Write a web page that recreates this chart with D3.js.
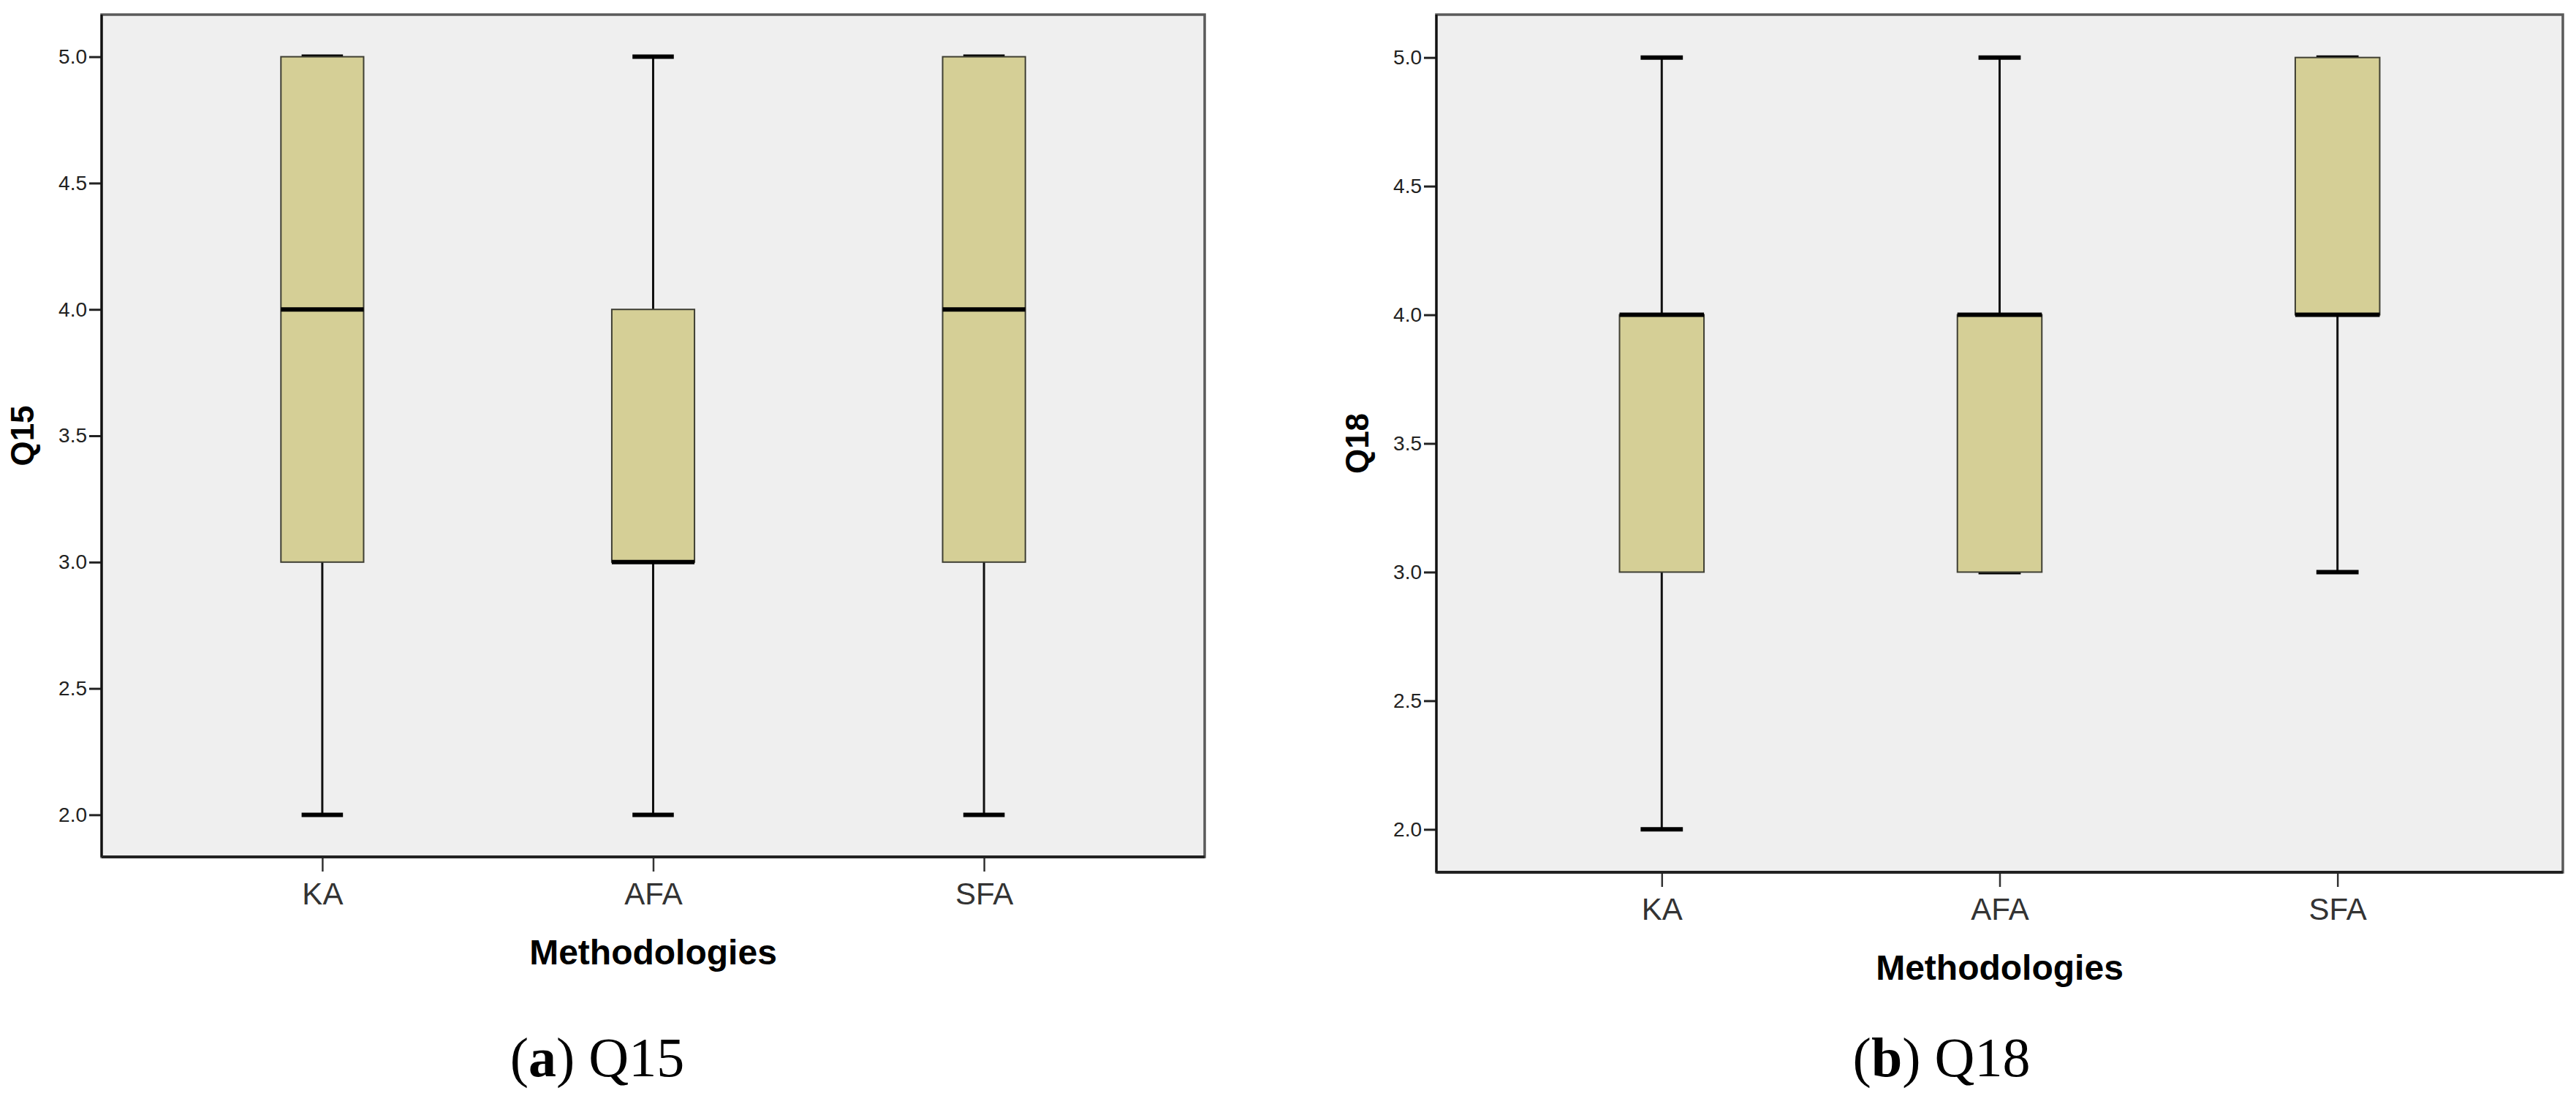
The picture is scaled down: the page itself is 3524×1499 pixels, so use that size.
<!DOCTYPE html>
<html>
<head>
<meta charset="utf-8">
<script src="https://cdn.jsdelivr.net/npm/d3@7"></script>
<style>
  body { margin: 0; background: #fff; }
  svg { display: block; }
</style>
</head>
<body>
<div id="chart"></div>
<script>
// Box plot data

const categories = ["KA", "AFA", "SFA"];
const yTicks = [2.0, 2.5, 3.0, 3.5, 4.0, 4.5, 5.0];

// (a) Q15
const q15Low = [2, 2, 2];
const q15Q1 = [3, 3, 3];
const q15Median = [4, 3, 4];
const q15Q3 = [5, 4, 5];
const q15High = [5, 5, 5];

// (b) Q18
const q18Low = [2, 3, 3];
const q18Q1 = [3, 3, 4];
const q18Median = [4, 4, 4];
const q18Q3 = [4, 4, 5];
const q18High = [5, 5, 5];

const W = 3524, H = 1499;

const panels = [
    { title: "Q15", tag: "a", left: 139, right: 1648, top: 20, bottom: 1172, capX: 817,
      low: q15Low, q1: q15Q1, med: q15Median, q3: q15Q3, high: q15High },
    { title: "Q18", tag: "b", left: 1965, right: 3506, top: 20, bottom: 1193, capX: 2656,
      low: q18Low, q1: q18Q1, med: q18Median, q3: q18Q3, high: q18High }
];

const svg = d3.select("#chart").append("svg")
    .attr("width", W)
    .attr("height", H);

panels.forEach(p => drawPanel(p));

function drawPanel(p) {
    const rows = categories.map((c, i) => ({
        cat: c, low: p.low[i], q1: p.q1[i], med: p.med[i], q3: p.q3[i], high: p.high[i]
    }));

    const x = d3.scalePoint()
        .domain(categories)
        .range([p.left, p.right])
        .padding(0.667);

    // SPSS pads the 2-5 range by 1/6 on each side
    const y = d3.scaleLinear()
        .domain([2 - 1 / 6, 5 + 1 / 6])
        .range([p.bottom, p.top]);

    const boxW = x.step() * 0.25;
    const capW = boxW / 2;

    const g = svg.append("g");

    // plot area
    g.append("rect")
        .attr("x", p.left)
        .attr("y", p.top)
        .attr("width", p.right - p.left)
        .attr("height", p.bottom - p.top)
        .attr("fill", "#efefef")
        .attr("stroke", "#5a5a5a")
        .attr("stroke-width", 3.5);

    // whiskers
    g.selectAll(".whisker")
        .data(rows)
        .enter().append("line")
        .attr("x1", d => x(d.cat))
        .attr("x2", d => x(d.cat))
        .attr("y1", d => y(d.low))
        .attr("y2", d => y(d.high))
        .attr("stroke", "#111")
        .attr("stroke-width", 3);

    // caps (drawn under the box, so caps on box edges only show half)
    const caps = rows.flatMap(d => [{ cat: d.cat, v: d.low }, { cat: d.cat, v: d.high }]);
    g.selectAll(".cap")
        .data(caps)
        .enter().append("line")
        .attr("x1", d => x(d.cat) - capW / 2)
        .attr("x2", d => x(d.cat) + capW / 2)
        .attr("y1", d => y(d.v))
        .attr("y2", d => y(d.v))
        .attr("stroke", "#000")
        .attr("stroke-width", 6);

    // boxes
    g.selectAll(".box")
        .data(rows)
        .enter().append("rect")
        .attr("x", d => x(d.cat) - boxW / 2)
        .attr("y", d => y(d.q3))
        .attr("width", boxW)
        .attr("height", d => y(d.q1) - y(d.q3))
        .attr("fill", "#d5cf96")
        .attr("stroke", "#3f3f33")
        .attr("stroke-width", 2);

    // medians
    g.selectAll(".median")
        .data(rows)
        .enter().append("line")
        .attr("x1", d => x(d.cat) - boxW / 2)
        .attr("x2", d => x(d.cat) + boxW / 2)
        .attr("y1", d => y(d.med))
        .attr("y2", d => y(d.med))
        .attr("stroke", "#000")
        .attr("stroke-width", 6);

    // y axis
    const yAxis = g.append("g")
        .attr("transform", `translate(${p.left},0)`)
        .call(d3.axisLeft(y).tickValues(yTicks).tickFormat(d3.format(".1f")).tickSize(17).tickPadding(3));
    yAxis.select(".domain").remove();
    yAxis.selectAll(".tick line").attr("stroke", "#222").attr("stroke-width", 3);
    yAxis.selectAll(".tick text")
        .attr("fill", "#222")
        .attr("font-family", "Liberation Sans, Arial, sans-serif")
        .attr("font-size", 28);

    g.append("line")
        .attr("x1", p.left).attr("x2", p.left)
        .attr("y1", p.top).attr("y2", p.bottom)
        .attr("stroke", "#111")
        .attr("stroke-width", 3);

    // x axis
    const xAxis = g.append("g")
        .attr("transform", `translate(0,${p.bottom})`)
        .call(d3.axisBottom(x).tickSize(20).tickPadding(15));
    xAxis.select(".domain").remove();
    xAxis.selectAll(".tick line").attr("stroke", "#333").attr("stroke-width", 2.5);
    xAxis.selectAll(".tick text")
        .attr("fill", "#333")
        .attr("font-family", "Liberation Sans, Arial, sans-serif")
        .attr("font-size", 42);

    g.append("line")
        .attr("x1", p.left).attr("x2", p.right)
        .attr("y1", p.bottom).attr("y2", p.bottom)
        .attr("stroke", "#222")
        .attr("stroke-width", 4);

    // axis titles
    g.append("text")
        .attr("x", (p.left + p.right) / 2)
        .attr("y", p.bottom + 147)
        .attr("text-anchor", "middle")
        .attr("font-family", "Liberation Sans, Arial, sans-serif")
        .attr("font-weight", "bold")
        .attr("font-size", 48)
        .attr("fill", "#000")
        .text("Methodologies");

    g.append("text")
        .attr("transform", `translate(${p.left - 93},${(p.top + p.bottom) / 2}) rotate(-90)`)
        .attr("text-anchor", "middle")
        .attr("font-family", "Liberation Sans, Arial, sans-serif")
        .attr("font-weight", "bold")
        .attr("font-size", 44)
        .attr("fill", "#000")
        .text(p.title);

    // sub-figure caption
    const cap = g.append("text")
        .attr("x", p.capX)
        .attr("y", 1472)
        .attr("text-anchor", "middle")
        .attr("font-family", "Liberation Serif, Times New Roman, serif")
        .attr("font-size", 76)
        .attr("fill", "#000");
    cap.append("tspan").text("(");
    cap.append("tspan").attr("font-weight", "bold").text(p.tag);
    cap.append("tspan").text(") " + p.title);
}
</script>
</body>
</html>
